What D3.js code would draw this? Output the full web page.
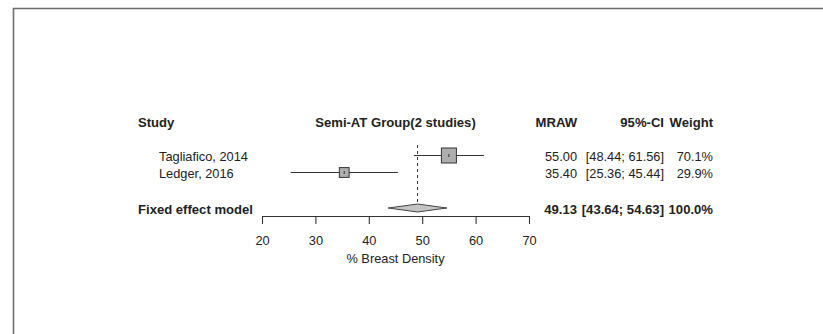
<!DOCTYPE html>
<html>
<head>
<meta charset="utf-8">
<script src="https://cdn.jsdelivr.net/npm/d3@7"></script>
<style>
  html, body { margin: 0; padding: 0; background: #ffffff; }
  svg { display: block; }
  text { font-family: "Liberation Sans", Arial, sans-serif; fill: #222; }
</style>
</head>
<body>
<svg id="chart" width="823" height="334"></svg>
<script>
// Forest plot: raw means of % breast density, fixed effect model
const studies = ["Tagliafico, 2014", "Ledger, 2016"];
const means = [55.00, 35.40];
const lower = [48.44, 25.36];
const upper = [61.56, 45.44];
const weights = [70.1, 29.9];

const pooledLabel = "Fixed effect model";
const pooledMean = 49.13;
const pooledLower = 43.64;
const pooledUpper = 54.63;
const pooledWeight = 100.0;

const xTicks = [20, 30, 40, 50, 60, 70];
const headers = { study: "Study", group: "Semi-AT Group(2 studies)", est: "MRAW", ci: "95%-CI", weight: "Weight" };
const xTitle = "% Breast Density";

const svg = d3.select("#chart");
const W = 823, H = 334;

// outer frame (left and top edges visible)
svg.append("path")
  .attr("d", `M13.5,${H} V8.5 H${W}`)
  .attr("fill", "none")
  .attr("stroke", "#6e6e6e")
  .attr("stroke-width", 1.6);

const x = d3.scaleLinear().domain([20, 70]).range([262, 529]);
const rowY = d3.scalePoint().domain(studies).range([155.5, 172.5]);
const pooledY = 208;
const headerY = 122;
const axisY = 216;

const fs = 12.8, fsb = 13.1;
const colStudy = 138, colStudyIndent = 159;
const colEst = 577, colCI = 664, colW = 713;

const fmt2 = d3.format(".2f"), fmt1 = d3.format(".1f");

// headers
const hdr = svg.append("g").attr("font-weight", "bold").attr("font-size", fsb);
hdr.append("text").attr("x", colStudy).attr("y", headerY).attr("dy", "0.36em").text(headers.study);
hdr.append("text").attr("x", (x(20) + x(70)) / 2).attr("y", headerY).attr("dy", "0.36em").attr("text-anchor", "middle").text(headers.group);
hdr.append("text").attr("x", colEst).attr("y", headerY).attr("dy", "0.36em").attr("text-anchor", "end").text(headers.est);
hdr.append("text").attr("x", colCI).attr("y", headerY).attr("dy", "0.36em").attr("text-anchor", "end").text(headers.ci);
hdr.append("text").attr("x", colW).attr("y", headerY).attr("dy", "0.36em").attr("text-anchor", "end").text(headers.weight);

// reference line at the pooled estimate
svg.append("line")
  .attr("x1", x(pooledMean)).attr("x2", x(pooledMean))
  .attr("y1", 145).attr("y2", pooledY - 4)
  .attr("stroke", "#333").attr("stroke-width", 1)
  .attr("stroke-dasharray", "3,3");

// study rows
const rows = studies.map((s, i) => ({ s, m: means[i], lo: lower[i], hi: upper[i], w: weights[i] }));
const sizeK = 15 / Math.sqrt(70.1);

const g = svg.append("g");
rows.forEach(d => {
  const y = rowY(d.s);
  g.append("line")
    .attr("x1", x(d.lo)).attr("x2", x(d.hi))
    .attr("y1", y).attr("y2", y)
    .attr("stroke", "#333").attr("stroke-width", 1.1);
  const sz = sizeK * Math.sqrt(d.w);
  g.append("rect")
    .attr("x", x(d.m) - sz / 2).attr("y", y - sz / 2)
    .attr("width", sz).attr("height", sz)
    .attr("fill", "#aeaeae").attr("stroke", "#333").attr("stroke-width", 1);
  g.append("line")
    .attr("x1", x(d.m)).attr("x2", x(d.m))
    .attr("y1", y - 1.5).attr("y2", y + 1.5)
    .attr("stroke", "#333").attr("stroke-width", 1);

  g.append("text").attr("x", colStudyIndent).attr("y", y + 1).attr("dy", "0.36em")
    .attr("font-size", fs).text(d.s);
  g.append("text").attr("x", colEst).attr("y", y + 1).attr("dy", "0.36em")
    .attr("font-size", fs).attr("text-anchor", "end").text(fmt2(d.m));
  g.append("text").attr("x", colCI).attr("y", y + 1).attr("dy", "0.36em")
    .attr("font-size", fs).attr("text-anchor", "end").text(`[${fmt2(d.lo)}; ${fmt2(d.hi)}]`);
  g.append("text").attr("x", colW).attr("y", y + 1).attr("dy", "0.36em")
    .attr("font-size", fs).attr("text-anchor", "end").text(`${fmt1(d.w)}%`);
});

// pooled diamond
const dh = 4;
svg.append("path")
  .attr("d", `M${x(pooledLower)},${pooledY} L${x(pooledMean)},${pooledY - dh} L${x(pooledUpper)},${pooledY} L${x(pooledMean)},${pooledY + dh} Z`)
  .attr("fill", "#c4c4c4").attr("stroke", "#444").attr("stroke-width", 1);

const pg = svg.append("g").attr("font-weight", "bold").attr("font-size", fsb);
pg.append("text").attr("x", colStudy).attr("y", pooledY + 1.5).attr("dy", "0.36em").text(pooledLabel);
pg.append("text").attr("x", colEst).attr("y", pooledY + 1.5).attr("dy", "0.36em").attr("text-anchor", "end").text(fmt2(pooledMean));
pg.append("text").attr("x", colCI).attr("y", pooledY + 1.5).attr("dy", "0.36em").attr("text-anchor", "end").text(`[${fmt2(pooledLower)}; ${fmt2(pooledUpper)}]`);
pg.append("text").attr("x", colW).attr("y", pooledY + 1.5).attr("dy", "0.36em").attr("text-anchor", "end").text(`${fmt1(pooledWeight)}%`);

// x axis
const axis = d3.axisBottom(x).tickValues(xTicks).tickFormat(d3.format("d"))
  .tickSizeInner(8).tickSizeOuter(0).tickPadding(12);
const ax = svg.append("g").attr("transform", `translate(0,${axisY})`).call(axis);
ax.select(".domain").attr("stroke", "#333").attr("stroke-width", 1.1);
ax.selectAll(".tick line").attr("stroke", "#333").attr("stroke-width", 1.1);
ax.selectAll(".tick text").attr("font-size", fs).attr("font-family", "Liberation Sans, Arial, sans-serif").attr("fill", "#222");

svg.append("text")
  .attr("x", (x(20) + x(70)) / 2).attr("y", 258).attr("dy", "0.36em")
  .attr("text-anchor", "middle").attr("font-size", fs).text(xTitle);
</script>
</body>
</html>
